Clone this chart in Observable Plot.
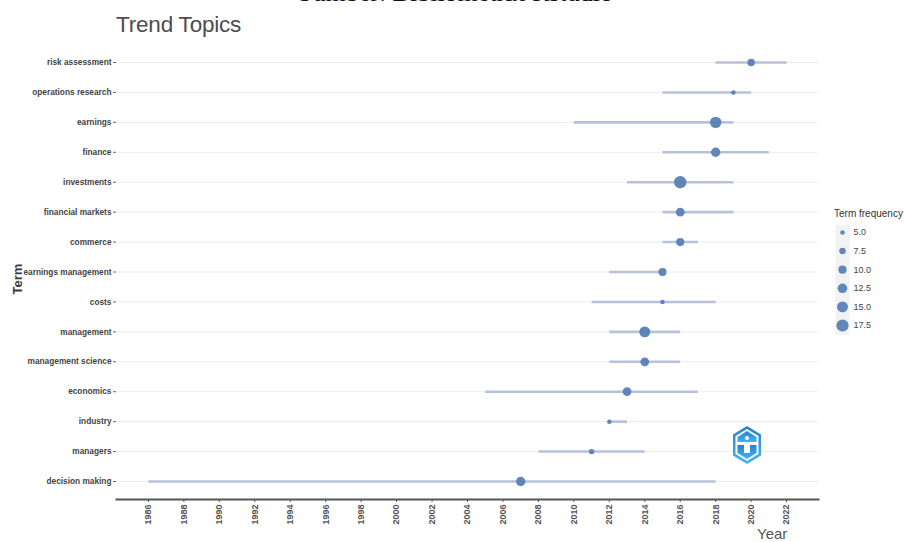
<!DOCTYPE html>
<html>
<head>
<meta charset="utf-8">
<script src="https://cdn.jsdelivr.net/npm/d3@7"></script>
<script src="https://cdn.jsdelivr.net/npm/@observablehq/plot@0.6"></script>
<style>
  html, body { margin: 0; padding: 0; background: #fff; }
  #page { position: relative; width: 904px; height: 542px; overflow: hidden; font-family: "Liberation Sans", Arial, sans-serif; }
  #source { position: absolute; left: 298px; top: -20px; font-family: "Liberation Serif", "Times New Roman", serif; font-size: 26px; line-height: 1; color: #111; white-space: nowrap; }
  #title { position: absolute; left: 116px; top: 14px; font-size: 22.5px; line-height: 1; color: #4d4d4d; letter-spacing: -0.2px; }
  #header { height: 38px; }
  #term { position: absolute; left: 17px; top: 279px; transform: translate(-50%, -50%) rotate(-90deg); font-size: 13px; font-weight: bold; color: #3a3a3a; }
  #year { position: absolute; left: 757px; top: 526px; font-size: 15px; line-height: 1; color: #555; }
  #legtitle { position: absolute; left: 834px; top: 209px; font-size: 10px; line-height: 1; color: #333; }
  #legend { position: absolute; left: 830px; top: 205px; }
  #logo { position: absolute; left: 731px; top: 425px; }
</style>
</head>
<body>
<div id="page">
  <div id="source">Sumber: Bibliometrix Rstudio</div>
  <div id="header"></div>
  <div id="title">Trend Topics</div>
  <div id="chart"></div>
  <div id="term">Term</div>
  <div id="year">Year</div>
  <div id="legtitle">Term frequency</div>
  <div id="legend"></div>
  <svg id="logo" width="32" height="40" viewBox="0 0 32 40">
    <defs>
      <linearGradient id="lg" x1="0" y1="0" x2="0" y2="1">
        <stop offset="0" stop-color="#2a7fd0"/>
        <stop offset="1" stop-color="#3fb6ef"/>
      </linearGradient>
    </defs>
    <polygon points="16,1 30,9.5 30,30.5 16,39 2,30.5 2,9.5" fill="url(#lg)"/>
    <polygon points="16,4 27.5,11 27.5,29 16,36 4.5,29 4.5,11" fill="#fff"/>
    <polygon points="16,6 25.5,12 25.5,17 6.5,17 6.5,12" fill="url(#lg)"/>
    <path d="M6.5 20 H25.5 V28 L16 34 L6.5 28 Z" fill="url(#lg)"/>
    <path d="M13 19 h6 v9 h-6 z" fill="#fff"/>
    <circle cx="16" cy="13" r="2" fill="#fff"/>
  </svg>
</div>
<script>
// ---- data ----
const terms = ["risk assessment", "operations research", "earnings", "finance", "investments",
  "financial markets", "commerce", "earnings management", "costs", "management",
  "management science", "economics", "industry", "managers", "decision making"];
const yearQ1 =     [2018, 2015, 2010, 2015, 2013, 2015, 2015, 2012, 2011, 2012, 2012, 2005, 2012, 2008, 1986];
const yearMedian = [2020, 2019, 2018, 2018, 2016, 2016, 2016, 2015, 2015, 2014, 2014, 2013, 2012, 2011, 2007];
const yearQ3 =     [2022, 2020, 2019, 2021, 2019, 2019, 2017, 2015, 2018, 2016, 2016, 2017, 2013, 2014, 2018];
const frequency =  [9, 5, 16, 12, 18, 11, 10, 10, 5, 15, 11, 11, 5, 6, 12];
const yearTicks = [1986, 1988, 1990, 1992, 1994, 1996, 1998, 2000, 2002, 2004, 2006, 2008, 2010, 2012, 2014, 2016, 2018, 2020, 2022];
const legendBreaks = [5.0, 7.5, 10.0, 12.5, 15.0, 17.5];

const rows = terms.map((t, i) => ({term: t, q1: yearQ1[i], med: yearMedian[i], q3: yearQ3[i], freq: frequency[i]}));

const rScale = {type: "sqrt", domain: [4, 18], range: [1.8, 6.2]};
const dotFill = "#5880b5";
const segStroke = "#b7c1dc";

const chart = Plot.plot({
  width: 904,
  height: 504,
  marginLeft: 116,
  marginRight: 86,
  marginTop: 6,
  marginBottom: 43,
  style: {fontFamily: "'Liberation Sans', Arial, sans-serif", background: "transparent"},
  x: {domain: [1984.2, 2023.8], label: null},
  y: {type: "point", domain: terms, padding: 0, round: false, range: [24, 443], label: null},
  r: rScale,
  marks: [
    Plot.gridY({stroke: "#ececec", strokeOpacity: 1, strokeWidth: 1}),
    Plot.link(rows, {x1: "q1", x2: "q3", y1: "term", y2: "term", stroke: segStroke, strokeWidth: 2.6}),
    Plot.dot(rows, {x: "med", y: "term", r: "freq", fill: dotFill, fillOpacity: 0.95}),
    Plot.axisY({tickSize: 3, tickPadding: 2, fontSize: 8.3, fontWeight: "bold", fill: "#444", stroke: "#666", label: null}),
    Plot.axisX({ticks: yearTicks, tickFormat: d => String(d), tickRotate: -90, tickSize: 3, tickPadding: 2,
      fontSize: 9, fontWeight: "bold", fill: "#555", stroke: "#555", label: null}),
    Plot.frame({anchor: "bottom", stroke: "#555", strokeWidth: 2})
  ]
});
document.getElementById("chart").appendChild(chart);

const legend = Plot.plot({
  width: 74,
  height: 135,
  marginLeft: 5,
  marginRight: 55,
  marginTop: 19,
  marginBottom: 6,
  style: {fontFamily: "'Liberation Sans', Arial, sans-serif", background: "transparent"},
  y: {type: "point", domain: legendBreaks, padding: 0, round: false, range: [27, 120], axis: null},
  r: rScale,
  marks: [
    Plot.frame({fill: "#f2f2f2", stroke: null}),
    Plot.dot(legendBreaks, {y: d => d, r: d => d, fill: dotFill, fillOpacity: 0.95}),
    Plot.text(legendBreaks, {y: d => d, text: d => d.toFixed(1), dx: 11, textAnchor: "start", fontSize: 9, fill: "#444"})
  ]
});
document.getElementById("legend").appendChild(legend);
</script>
</body>
</html>
